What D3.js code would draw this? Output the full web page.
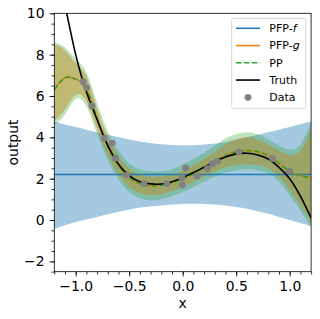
<!DOCTYPE html>
<html>
<head>
<meta charset="utf-8">
<script src="https://cdn.jsdelivr.net/npm/d3@7"></script>
<style>
  body { margin: 0; background: #fff; }
  svg { display: block; font-family: "DejaVu Sans", sans-serif; }
</style>
</head>
<body>
<svg id="chart" width="320" height="319"></svg>
<script>
var xs = [-1.2, -1.1, -1.0, -0.9, -0.8, -0.7, -0.6, -0.5, -0.4, -0.3, -0.2, -0.1, 0.0,
          0.1, 0.2, 0.3, 0.4, 0.5, 0.6, 0.7, 0.8, 0.9, 1.0, 1.1, 1.2];

var truth = [12.8, 10.4, 8.0, 6.2, 4.85, 3.6, 2.7, 2.15, 1.85, 1.75, 1.74, 1.85, 2.05,
             2.3, 2.55, 2.83, 3.05, 3.2, 3.23, 3.15, 2.95, 2.55, 2.0, 1.15, 0.1];

// PFP-f : flat mean with wide band
var pfpfMean  = [2.2, 2.2, 2.2, 2.2, 2.2, 2.2, 2.2, 2.2, 2.2, 2.2, 2.2, 2.2, 2.2,
                 2.2, 2.2, 2.2, 2.2, 2.2, 2.2, 2.2, 2.2, 2.2, 2.2, 2.2, 2.2];
var pfpfUpper = [4.76, 4.62, 4.5, 4.37, 4.25, 4.12, 4.0, 3.9, 3.8, 3.73, 3.67, 3.63, 3.62,
                 3.62, 3.65, 3.7, 3.78, 3.88, 4.0, 4.12, 4.25, 4.37, 4.5, 4.63, 4.78];
var pfpfLower = [-0.42, -0.25, -0.1, 0.03, 0.15, 0.28, 0.4, 0.5, 0.6, 0.66, 0.7, 0.75, 0.78,
                 0.79, 0.78, 0.75, 0.7, 0.63, 0.55, 0.43, 0.3, 0.15, 0.0, -0.15, -0.3];

// PFP-g
var pfpgMean  = [6.3, 6.88, 6.82, 6.35, 4.9, 3.6, 2.65, 2.05, 1.75, 1.65, 1.68, 1.8, 2.0,
                 2.25, 2.55, 2.85, 3.12, 3.3, 3.36, 3.3, 3.1, 2.75, 2.35, 2.15, 2.05];
var pfpgUpper = [8.5, 8.2, 7.6, 6.95, 5.4, 4.05, 3.1, 2.5, 2.2, 2.1, 2.1, 2.2, 2.4,
                 2.65, 2.95, 3.3, 3.65, 3.9, 4.0, 3.9, 3.65, 3.35, 3.15, 3.35, 4.4];
var pfpgLower = [4.8, 5.35, 6.05, 5.75, 4.4, 3.15, 2.2, 1.6, 1.3, 1.2, 1.25, 1.4, 1.6,
                 1.85, 2.1, 2.35, 2.55, 2.65, 2.7, 2.65, 2.5, 2.1, 1.45, 0.7, -0.1];

// PP
var ppMean  = [6.3, 6.88, 6.82, 6.35, 4.9, 3.6, 2.65, 2.05, 1.75, 1.65, 1.68, 1.8, 2.0,
               2.25, 2.55, 2.85, 3.12, 3.3, 3.36, 3.3, 3.1, 2.75, 2.35, 2.15, 2.05];
var ppUpper = [8.6, 8.35, 7.8, 7.15, 5.65, 4.3, 3.35, 2.75, 2.45, 2.35, 2.35, 2.45, 2.7,
               2.95, 3.25, 3.6, 3.95, 4.15, 4.25, 4.15, 3.9, 3.6, 3.4, 3.65, 4.7];
var ppLower = [4.6, 5.1, 5.85, 5.5, 4.15, 2.9, 1.95, 1.35, 1.05, 0.95, 1.0, 1.15, 1.35,
               1.6, 1.85, 2.1, 2.3, 2.4, 2.45, 2.4, 2.25, 1.85, 1.2, 0.45, -0.35];

// observed data
var dataX = [-0.929, -0.897, -0.848, -0.733, -0.658, -0.630, -0.523, -0.362, -0.150, -0.007,
             -0.004, 0.028, 0.137, 0.230, 0.277, 0.324, 0.526, 0.838, 0.997];
var dataY = [6.69, 6.40, 5.52, 3.96, 3.72, 2.99, 2.16, 1.76, 1.76, 2.05,
             1.70, 2.52, 2.13, 2.49, 2.71, 2.84, 3.29, 2.97, 2.37];

var xTicks = [-1.0, -0.5, 0.0, 0.5, 1.0];
var yTicks = [-2, 0, 2, 4, 6, 8, 10];

var padL = 54.3, padR = 311.1, padT = 13.3, padB = 271.7;
var svg = d3.select("#chart");

var x = d3.scaleLinear().domain([-1.2, 1.2]).range([padL, padR]);
var y = d3.scaleLinear().domain([-2.5, 10]).range([padB, padT]);

svg.append("clipPath").attr("id", "clip")
   .append("rect").attr("x", padL).attr("y", padT)
   .attr("width", padR - padL).attr("height", padB - padT);

var plot = svg.append("g").attr("clip-path", "url(#clip)");

function band(lo, hi, color, alpha) {
  var area = d3.area()
      .x(function(d, i) { return x(xs[i]); })
      .y0(function(d, i) { return y(lo[i]); })
      .y1(function(d, i) { return y(hi[i]); })
      .curve(d3.curveNatural);
  plot.append("path").datum(xs).attr("d", area)
      .attr("fill", color).attr("fill-opacity", alpha);
}

function line(vals, color, dash) {
  var l = d3.line()
      .x(function(d, i) { return x(xs[i]); })
      .y(function(d) { return y(d); })
      .curve(d3.curveNatural);
  var p = plot.append("path").datum(vals).attr("d", l)
      .attr("fill", "none").attr("stroke", color).attr("stroke-width", 1.6);
  if (dash) p.attr("stroke-dasharray", dash);
}

band(pfpfLower, pfpfUpper, "#1f77b4", 0.4);
band(pfpgLower, pfpgUpper, "#ff7f0e", 0.45);
band(ppLower, ppUpper, "#2ca02c", 0.3);

line(pfpfMean, "#1f77b4");
line(pfpgMean, "#ff7f0e");
line(ppMean, "#2ca02c", "5.5,2.4");
line(truth, "#000000");

plot.selectAll("circle.data")
    .data(dataX)
    .enter().append("circle")
    .attr("class", "data")
    .attr("cx", function(d) { return x(d); })
    .attr("cy", function(d, i) { return y(dataY[i]); })
    .attr("r", 3.4)
    .attr("fill", "#808080");

// axes
var fs = 13.9;
var xAxis = svg.append("g").attr("transform", "translate(0," + padB + ")")
   .call(d3.axisBottom(x).tickValues(xTicks).tickFormat(d3.format(".1f"))
         .tickSize(4.9).tickPadding(4.9));
var xMinor = svg.append("g").attr("transform", "translate(0," + padB + ")")
   .call(d3.axisBottom(x).tickValues(d3.range(-12, 13).map(function(d) { return d / 10; }))
         .tickFormat("").tickSize(2.8));
var yAxis = svg.append("g").attr("transform", "translate(" + padL + ",0)")
   .call(d3.axisLeft(y).tickValues(yTicks).tickFormat(d3.format("d"))
         .tickSize(4.9).tickPadding(4.9));
var yMinor = svg.append("g").attr("transform", "translate(" + padL + ",0)")
   .call(d3.axisLeft(y).tickValues(d3.range(-5, 21).map(function(d) { return d / 2; }))
         .tickFormat("").tickSize(2.8));

[xAxis, xMinor, yAxis, yMinor].forEach(function(g) {
  g.select(".domain").remove();
  g.selectAll("line").attr("stroke", "#000").attr("stroke-width", 0.8);
  g.selectAll("text").attr("font-size", fs).attr("font-family", "DejaVu Sans").attr("fill", "#000");
});

svg.append("rect").attr("x", padL).attr("y", padT)
   .attr("width", padR - padL).attr("height", padB - padT)
   .attr("fill", "none").attr("stroke", "#000").attr("stroke-width", 0.8);

svg.append("text").attr("x", (padL + padR) / 2).attr("y", 308)
   .attr("text-anchor", "middle").attr("font-size", fs).text("x");
svg.append("text")
   .attr("transform", "translate(18," + ((padT + padB) / 2) + ") rotate(-90)")
   .attr("text-anchor", "middle").attr("font-size", fs).text("output");

// legend
var legend = svg.append("g");
legend.append("rect").attr("x", 231.7).attr("y", 18.3).attr("width", 74).attr("height", 90)
      .attr("rx", 2).attr("fill", "#fff").attr("fill-opacity", 0.8)
      .attr("stroke", "#cccccc").attr("stroke-width", 0.8);

var entries = [
  {name: "PFP-", it: "f", color: "#1f77b4", kind: "line"},
  {name: "PFP-", it: "g", color: "#ff7f0e", kind: "line"},
  {name: "PP", it: "", color: "#2ca02c", kind: "dash"},
  {name: "Truth", it: "", color: "#000000", kind: "line"},
  {name: "Data", it: "", color: "#808080", kind: "dot"}
];
entries.forEach(function(e, i) {
  var ly = 28.3 + i * 17.25;
  if (e.kind === "dot") {
    legend.append("circle").attr("cx", 248).attr("cy", ly).attr("r", 3.4).attr("fill", e.color);
  } else {
    var l = legend.append("line").attr("x1", 236).attr("x2", 260).attr("y1", ly).attr("y2", ly)
        .attr("stroke", e.color).attr("stroke-width", 1.6);
    if (e.kind === "dash") l.attr("stroke-dasharray", "5.5,2.4");
  }
  var t = legend.append("text").attr("x", 269.3).attr("y", ly + 3.9).attr("font-size", 11);
  t.append("tspan").text(e.name);
  if (e.it) t.append("tspan").attr("font-style", "italic").text(e.it);
});
</script>
</body>
</html>
